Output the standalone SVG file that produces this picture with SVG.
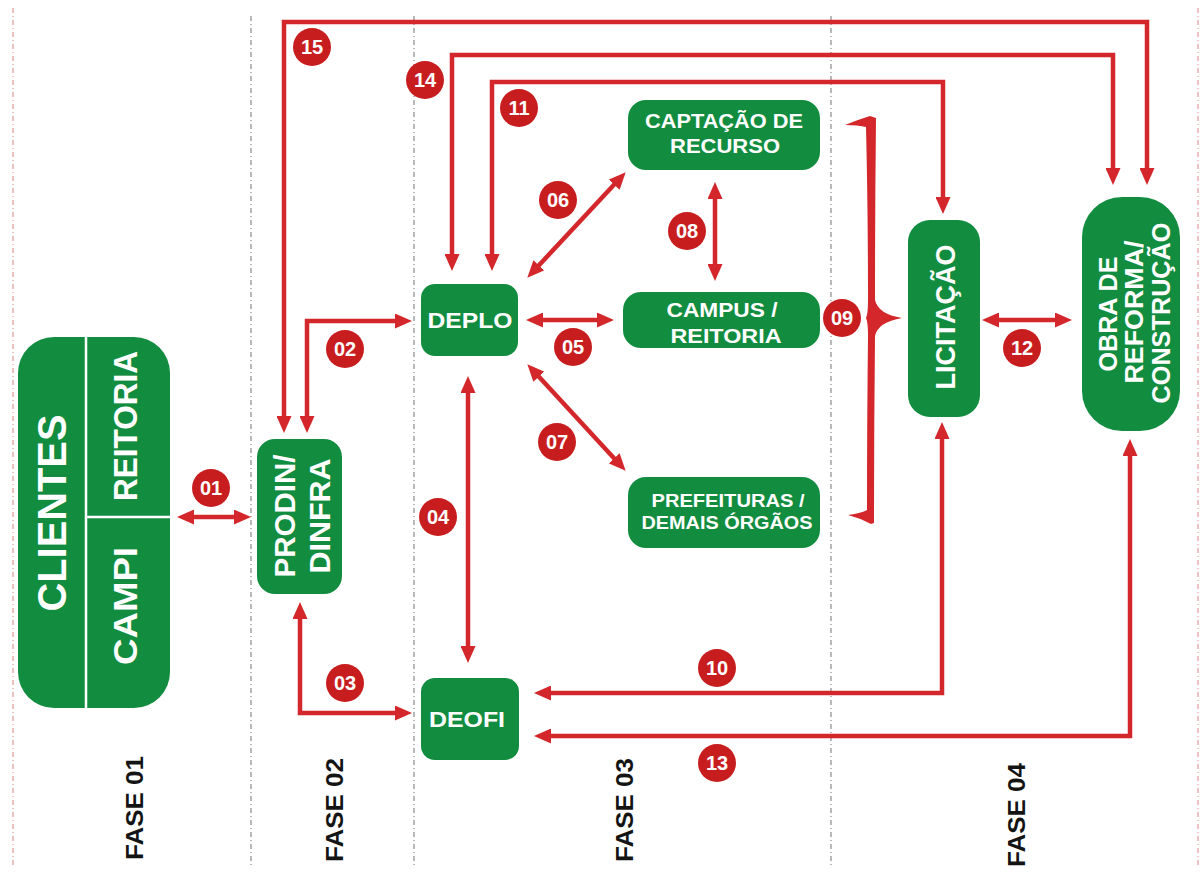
<svg xmlns="http://www.w3.org/2000/svg" width="1203" height="872" viewBox="0 0 1203 872">
<style>
.bg{fill:#ffffff}
.sep{stroke:#8a8a8a;stroke-width:1.2;stroke-dasharray:5 3 1 3;fill:none}
.sepr{stroke:#e29a9a;stroke-width:1.2;stroke-dasharray:5 3 1 3;fill:none}
.box{fill:#128c3f}
.lbl{fill:#ffffff;font-family:"Liberation Sans",Arial,sans-serif;font-weight:bold;text-anchor:middle}
.conn{fill:none;stroke:#d3272b;stroke-width:4.5;stroke-linejoin:miter;marker-start:url(#ah);marker-end:url(#ah)}
.badge circle{fill:#c81d1f}
.badge text{fill:#ffffff;font-family:"Liberation Sans",Arial,sans-serif;font-weight:bold;font-size:20px;text-anchor:middle}
.fase{fill:#141414;font-family:"Liberation Sans",Arial,sans-serif;font-weight:bold;font-size:24px;text-anchor:middle}
</style>
<defs>
<marker id="ah" viewBox="0 0 17 15" refX="6" refY="7.5" markerWidth="17" markerHeight="15" markerUnits="userSpaceOnUse" orient="auto-start-reverse">
<path d="M0,0 L17,7.5 L0,15 z" fill="#d3272b"/>
</marker>
</defs>
<rect class="bg" x="0" y="0" width="1203" height="872"/>

<g id="separators">
<line class="sepr" x1="13" y1="8" x2="13" y2="866"/>
<line class="sep" x1="251" y1="16" x2="251" y2="866"/>
<line class="sep" x1="414" y1="16" x2="414" y2="866"/>
<line class="sep" x1="831" y1="16" x2="831" y2="866"/>
<line class="sepr" x1="1198" y1="8" x2="1198" y2="866"/>
</g>

<g id="phases">
<text class="fase" transform="translate(143,808) rotate(-90)" textLength="104" lengthAdjust="spacingAndGlyphs">FASE 01</text>
<text class="fase" transform="translate(343,810) rotate(-90)" textLength="104" lengthAdjust="spacingAndGlyphs">FASE 02</text>
<text class="fase" transform="translate(633,810) rotate(-90)" textLength="104" lengthAdjust="spacingAndGlyphs">FASE 03</text>
<text class="fase" transform="translate(1025,815) rotate(-90)" textLength="104" lengthAdjust="spacingAndGlyphs">FASE 04</text>
</g>

<g id="node-clientes">
<rect class="box" x="18" y="337" width="152" height="371" rx="36" ry="36"/>
<line x1="86" y1="337" x2="86" y2="708" stroke="#ffffff" stroke-width="2.5"/>
<line x1="86" y1="517" x2="170" y2="517" stroke="#ffffff" stroke-width="2.5"/>
<text class="lbl" font-size="40" transform="translate(66,513) rotate(-90)" textLength="197" lengthAdjust="spacingAndGlyphs">CLIENTES</text>
<text class="lbl" font-size="34" transform="translate(137,426) rotate(-90)" textLength="150" lengthAdjust="spacingAndGlyphs">REITORIA</text>
<text class="lbl" font-size="34" transform="translate(137,606) rotate(-90)" textLength="118" lengthAdjust="spacingAndGlyphs">CAMPI</text>
</g>

<g id="node-prodin">
<rect class="box" x="257" y="439" width="85" height="155" rx="18" ry="18"/>
<text class="lbl" font-size="30" transform="translate(295,516) rotate(-90)" textLength="123" lengthAdjust="spacingAndGlyphs">PRODIN/</text>
<text class="lbl" font-size="30" transform="translate(330,516) rotate(-90)" textLength="115" lengthAdjust="spacingAndGlyphs">DINFRA</text>
</g>

<g id="node-deplo">
<rect class="box" x="421" y="284" width="97" height="72" rx="14" ry="14"/>
<text class="lbl" font-size="22" x="470" y="328" textLength="85" lengthAdjust="spacingAndGlyphs">DEPLO</text>
</g>

<g id="node-deofi">
<rect class="box" x="421" y="678" width="98" height="82" rx="14" ry="14"/>
<text class="lbl" font-size="22" x="467" y="727" textLength="76" lengthAdjust="spacingAndGlyphs">DEOFI</text>
</g>

<g id="node-captacao">
<rect class="box" x="628" y="100" width="192" height="70" rx="18" ry="18"/>
<text class="lbl" font-size="21" x="724" y="128" textLength="158" lengthAdjust="spacingAndGlyphs">CAPTAÇÃO DE</text>
<text class="lbl" font-size="21" x="725" y="153" textLength="110" lengthAdjust="spacingAndGlyphs">RECURSO</text>
</g>

<g id="node-campus">
<rect class="box" x="623" y="292" width="197" height="56" rx="18" ry="18"/>
<text class="lbl" font-size="21" x="722" y="317" textLength="111" lengthAdjust="spacingAndGlyphs">CAMPUS /</text>
<text class="lbl" font-size="21" x="726" y="343" textLength="111" lengthAdjust="spacingAndGlyphs">REITORIA</text>
</g>

<g id="node-prefeituras">
<rect class="box" x="628" y="477" width="192" height="71" rx="18" ry="18"/>
<text class="lbl" font-size="19" x="728" y="507" textLength="153" lengthAdjust="spacingAndGlyphs">PREFEITURAS /</text>
<text class="lbl" font-size="19" x="727" y="529" textLength="171" lengthAdjust="spacingAndGlyphs">DEMAIS ÓRGÃOS</text>
</g>

<g id="node-licitacao">
<rect class="box" x="908" y="220" width="72" height="197" rx="22" ry="22"/>
<text class="lbl" font-size="27" transform="translate(955,317) rotate(-90)" textLength="145" lengthAdjust="spacingAndGlyphs">LICITAÇÃO</text>
</g>

<g id="node-obra">
<rect class="box" x="1082" y="197" width="98" height="234" rx="40" ry="40"/>
<text class="lbl" font-size="26" transform="translate(1117,314) rotate(-90)" textLength="115" lengthAdjust="spacingAndGlyphs">OBRA DE</text>
<text class="lbl" font-size="26" transform="translate(1143,312) rotate(-90)" textLength="143" lengthAdjust="spacingAndGlyphs">REFORMA/</text>
<text class="lbl" font-size="26" transform="translate(1170,313) rotate(-90)" textLength="181" lengthAdjust="spacingAndGlyphs">CONSTRUÇÃO</text>
</g>

<g id="connectors">
<path class="conn" d="M188 517 L240 517"/>
<path class="conn" d="M307 422 L307 321 L401 321"/>
<path class="conn" d="M300 613 L300 713 L401 713"/>
<path class="conn" d="M468 387 L468 652"/>
<path class="conn" d="M537 320 L603 320"/>
<path class="conn" d="M534.8 269.7 L618.2 180.3"/>
<path class="conn" d="M534.8 372.3 L618.2 462.7"/>
<path class="conn" d="M715 193 L715 270"/>
<path class="conn" d="M942 433 L942 693 L545 693"/>
<path class="conn" d="M1130 450 L1130 736 L545 736"/>
<path class="conn" d="M993 320 L1061 320"/>
<path class="conn" d="M492 260 L492 82 L943 82 L943 203"/>
<path class="conn" d="M452 260 L452 55 L1113 55 L1113 174"/>
<path class="conn" d="M284 422 L284 22 L1147 22 L1147 174"/>
<path id="brace-09" fill="#d3272b" d="M845 125 Q860 119 870 116 L876 118 Q875 210 875 300 Q878 314 902 318 Q878 322 875 336 Q874 430 874 523 L871 524 Q860 518 848 515 Q862 513 867 510 Q867 420 868 336 Q868 322 866 318 Q868 314 868 300 Q868 210 866 127 Q858 125 845 125 z"/>
</g>

<g id="badges">
<g class="badge"><circle cx="312" cy="47" r="19"/><text x="312" y="54">15</text></g>
<g class="badge"><circle cx="425" cy="80" r="19"/><text x="425" y="87">14</text></g>
<g class="badge"><circle cx="519" cy="108" r="19"/><text x="519" y="115">11</text></g>
<g class="badge"><circle cx="558" cy="200" r="19"/><text x="558" y="207">06</text></g>
<g class="badge"><circle cx="687" cy="231" r="19"/><text x="687" y="238">08</text></g>
<g class="badge"><circle cx="211" cy="488" r="19"/><text x="211" y="495">01</text></g>
<g class="badge"><circle cx="345" cy="349" r="19"/><text x="345" y="356">02</text></g>
<g class="badge"><circle cx="345" cy="683" r="19"/><text x="345" y="690">03</text></g>
<g class="badge"><circle cx="438" cy="517" r="19"/><text x="438" y="524">04</text></g>
<g class="badge"><circle cx="573" cy="347" r="19"/><text x="573" y="354">05</text></g>
<g class="badge"><circle cx="557" cy="442" r="19"/><text x="557" y="449">07</text></g>
<g class="badge"><circle cx="842" cy="318" r="19"/><text x="842" y="325">09</text></g>
<g class="badge"><circle cx="717" cy="668" r="19"/><text x="717" y="675">10</text></g>
<g class="badge"><circle cx="1022" cy="348" r="19"/><text x="1022" y="355">12</text></g>
<g class="badge"><circle cx="717" cy="763" r="19"/><text x="717" y="770">13</text></g>
</g>
</svg>
